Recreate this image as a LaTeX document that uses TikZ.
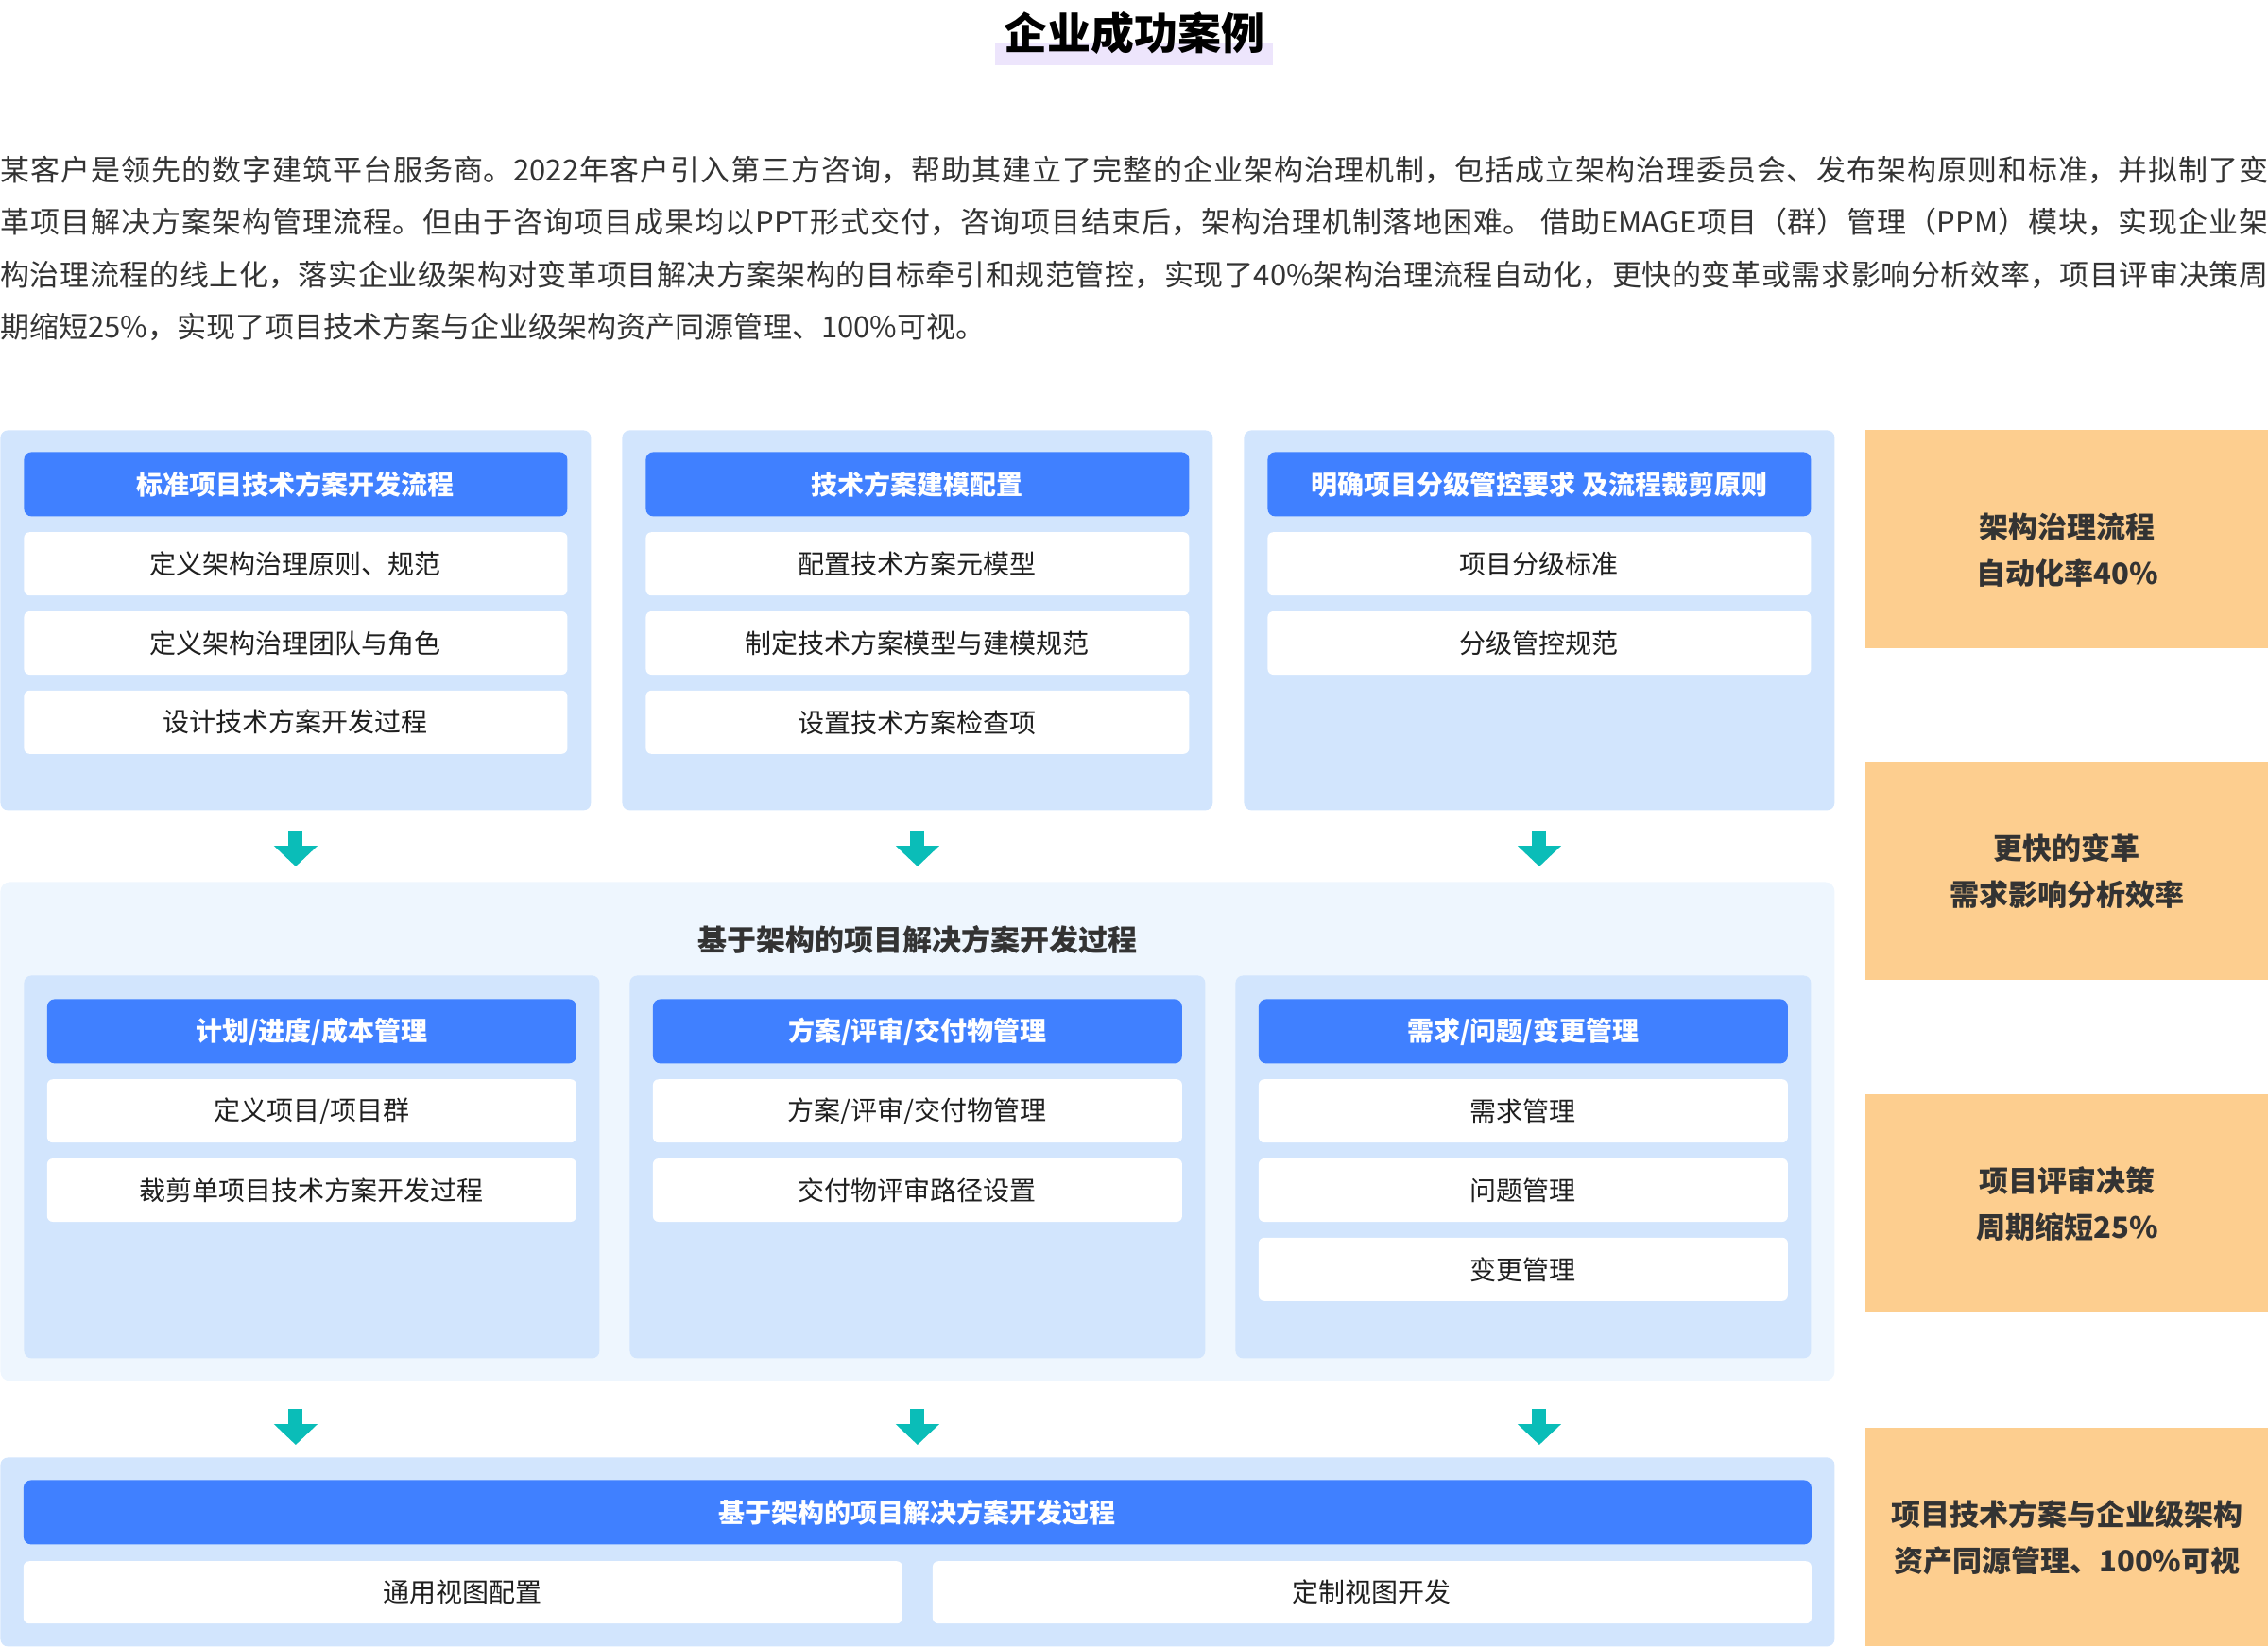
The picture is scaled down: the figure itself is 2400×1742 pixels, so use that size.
\documentclass[tikz,border=0pt]{standalone}
\usepackage{fontspec}
\setmainfont{Noto Sans CJK SC}
\usepackage{xcolor}
\usetikzlibrary{positioning,arrows.meta}
\definecolor{headblue}{HTML}{4080FF}
\definecolor{panelblue}{HTML}{D2E5FD}
\definecolor{outerblue}{HTML}{EEF6FE}
\definecolor{gainorange}{HTML}{FDCE8F}
\definecolor{flowteal}{HTML}{0ABDB8}
\definecolor{titlebar}{HTML}{EDE5FC}
\definecolor{textdark}{HTML}{333333}
\definecolor{itemtext}{HTML}{1F1F1F}
\XeTeXlinebreaklocale "zh"
\XeTeXlinebreakskip=0pt plus 1pt
\newcommand{\paraline}[1]{\parbox[b]{1200pt}{\tolerance=9999\parfillskip=0pt #1}}

\begin{document}
\begin{tikzpicture}[x=0.5pt,y=-0.5pt,
	panel/.style={fill=panelblue, rounded corners=4pt, anchor=north west, inner sep=0pt},
	head/.style={fill=headblue, text=white, rounded corners=4pt, minimum height=34pt, inner sep=0pt, font=\fontsize{14pt}{16pt}\selectfont\bfseries},
	item/.style={fill=white, text=itemtext, rounded corners=3pt, minimum height=33.5pt, inner sep=0pt, font=\fontsize{14pt}{16pt}\selectfont},
	gain/.style={fill=gainorange, anchor=north west, minimum width=213pt, minimum height=115.5pt, inner sep=0pt},
	gaintext/.style={text=textdark, inner sep=0pt, align=center, font=\fontsize{15.5pt}{24.5pt}\selectfont\bfseries},
	para/.style={anchor=base west, inner sep=0pt, text=textdark, font=\fontsize{15.5pt}{18pt}\selectfont},
	flow/.style={draw=flowteal, line width=7.5pt, -{Triangle[width=22.5pt,length=11pt]}}]
	\useasboundingbox (0,0) rectangle (2400,1742);
	% title
	\node[fill=titlebar, anchor=north, minimum width=147pt, minimum height=11.5pt, inner sep=0pt] (bar) at (1200,46) {};
	\node[font=\fontsize{23pt}{23pt}\selectfont\bfseries, text=black, inner sep=0pt] (title) at (1200,35) {企业成功案例};
	% text
	\node[para] (l1) at (0,191) {\paraline{某客户是领先的数字建筑平台服务商。2022年客户引入第三方咨询，帮助其建立了完整的企业架构治理机制，包括成立架构治理委员会、发布架构原则和标准，并拟制了变}};
	\node[para] (l2) at (0,246.5) {\paraline{革项目解决方案架构管理流程。但由于咨询项目成果均以PPT形式交付，咨询项目结束后，架构治理机制落地困难。 借助EMAGE项目（群）管理（PPM）模块，实现企业架}};
	\node[para] (l3) at (0,302) {\paraline{构治理流程的线上化，落实企业级架构对变革项目解决方案架构的目标牵引和规范管控，实现了40\%架构治理流程自动化，更快的变革或需求影响分析效率，项目评审决策周}};
	\node[para] (l4) at (0,357.5) {期缩短25\%，实现了项目技术方案与企业级架构资产同源管理、100\%可视。};
	% top row
	\node[panel, minimum width=312.5pt, minimum height=201pt] (t1) at (0,455) {};
	\node[head, minimum width=287.5pt, below=11.5pt of t1.north] (t1h) {标准项目技术方案开发流程};
	\node[item, minimum width=287.5pt, below=8pt of t1h] (t1a) {定义架构治理原则、规范};
	\node[item, minimum width=287.5pt, below=8pt of t1a] (t1b) {定义架构治理团队与角色};
	\node[item, minimum width=287.5pt, below=8pt of t1b] (t1c) {设计技术方案开发过程};
	\node[panel, minimum width=312.5pt, minimum height=201pt] (t2) at (658,455) {};
	\node[head, minimum width=287.5pt, below=11.5pt of t2.north] (t2h) {技术方案建模配置};
	\node[item, minimum width=287.5pt, below=8pt of t2h] (t2a) {配置技术方案元模型};
	\node[item, minimum width=287.5pt, below=8pt of t2a] (t2b) {制定技术方案模型与建模规范};
	\node[item, minimum width=287.5pt, below=8pt of t2b] (t2c) {设置技术方案检查项};
	\node[panel, minimum width=312.5pt, minimum height=201pt] (t3) at (1316,455) {};
	\node[head, minimum width=287.5pt, below=11.5pt of t3.north] (t3h) {明确项目分级管控要求 及流程裁剪原则};
	\node[item, minimum width=287.5pt, below=8pt of t3h] (t3a) {项目分级标准};
	\node[item, minimum width=287.5pt, below=8pt of t3a] (t3b) {分级管控规范};
	% middle row
	\node[panel, fill=outerblue, rounded corners=5pt, minimum width=970.5pt, minimum height=264pt] (mid) at (0,933) {};
	\node[font=\fontsize{15.5pt}{18pt}\selectfont\bfseries, text=textdark, inner sep=0pt] (midt) at (970.5,995) {基于架构的项目解决方案开发过程};
	\node[panel, minimum width=304.5pt, minimum height=202.5pt] (m1) at (25,1032) {};
	\node[head, minimum width=280pt, below=12.5pt of m1.north] (m1h) {计划/进度/成本管理};
	\node[item, minimum width=280pt, below=8pt of m1h] (m1a) {定义项目/项目群};
	\node[item, minimum width=280pt, below=8pt of m1a] (m1b) {裁剪单项目技术方案开发过程};
	\node[panel, minimum width=304.5pt, minimum height=202.5pt] (m2) at (666,1032) {};
	\node[head, minimum width=280pt, below=12.5pt of m2.north] (m2h) {方案/评审/交付物管理};
	\node[item, minimum width=280pt, below=8pt of m2h] (m2a) {方案/评审/交付物管理};
	\node[item, minimum width=280pt, below=8pt of m2a] (m2b) {交付物评审路径设置};
	\node[panel, minimum width=304.5pt, minimum height=202.5pt] (m3) at (1307,1032) {};
	\node[head, minimum width=280pt, below=12.5pt of m3.north] (m3h) {需求/问题/变更管理};
	\node[item, minimum width=280pt, below=8pt of m3h] (m3a) {需求管理};
	\node[item, minimum width=280pt, below=8pt of m3a] (m3b) {问题管理};
	\node[item, minimum width=280pt, below=8pt of m3b] (m3c) {变更管理};
	% bottom row
	\node[panel, minimum width=970.5pt, minimum height=100pt] (bot) at (0,1542) {};
	\node[head, minimum width=946pt, below=12pt of bot.north] (both) {基于架构的项目解决方案开发过程};
	\node[item, minimum width=465pt, minimum height=33pt, below right=8.5pt and 0pt of both.south west] (b1) {通用视图配置};
	\node[item, minimum width=465pt, minimum height=33pt, below left=8.5pt and 0pt of both.south east] (b2) {定制视图开发};
	% arrows
	\draw[flow, shorten <=10.5pt, shorten >=8pt] (t1.south) -- (t1.south |- mid.north);
	\draw[flow, shorten <=10.5pt, shorten >=8pt] (t2.south) -- (t2.south |- mid.north);
	\draw[flow, shorten <=10.5pt, shorten >=8pt] (t3.south) -- (t3.south |- mid.north);
	\draw[flow, shorten <=14.5pt, shorten >=6.5pt] (t1.south |- mid.south) -- (t1.south |- bot.north);
	\draw[flow, shorten <=14.5pt, shorten >=6.5pt] (t2.south |- mid.south) -- (t2.south |- bot.north);
	\draw[flow, shorten <=14.5pt, shorten >=6.5pt] (t3.south |- mid.south) -- (t3.south |- bot.north);
	% gains
	\node[gain] (g1) at (1974,455) {};
	\node[gaintext] (g1t) at ([yshift=-5.5pt]g1.center) {架构治理流程\\自动化率40\%};
	\node[gain] (g2) at (1974,806) {};
	\node[gaintext] (g2t) at (g2.center) {更快的变革\\需求影响分析效率};
	\node[gain] (g3) at (1974,1158) {};
	\node[gaintext] (g3t) at (g3.center) {项目评审决策\\周期缩短25\%};
	\node[gain] (g4) at (1974,1511) {};
	\node[gaintext] (g4t) at (g4.center) {项目技术方案与企业级架构\\资产同源管理、100\%可视};
\end{tikzpicture}
\end{document}
